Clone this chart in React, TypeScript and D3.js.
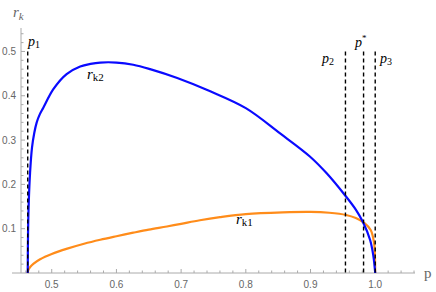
import * as d3 from 'd3';
import React from 'react';

// r_k2 (blue)
const blueP = [0.4629, 0.4634, 0.4645, 0.4665, 0.4695, 0.473, 0.4768, 0.4815, 0.487, 0.5025, 0.523, 0.544, 0.56, 0.575, 0.6, 0.626, 0.652, 0.694, 0.745, 0.8, 0.853, 0.899, 0.925, 0.953, 0.97, 0.981, 0.992, 0.997, 1.0];
const blueR = [0, 0.09, 0.16, 0.226, 0.283, 0.316, 0.34, 0.358, 0.373, 0.415, 0.449, 0.466, 0.472, 0.475, 0.475, 0.47, 0.46, 0.44, 0.41, 0.372, 0.315, 0.263, 0.225, 0.176, 0.143, 0.115, 0.075, 0.04, 0];

// r_k1 (orange)
const orangeP = [0.4629, 0.464, 0.467, 0.472, 0.482, 0.5, 0.524, 0.55, 0.575, 0.6, 0.626, 0.65, 0.678, 0.7, 0.729, 0.76, 0.8, 0.857, 0.9, 0.929, 0.955, 0.97, 0.983, 0.993, 0.998, 0.9995, 1.0];
const orangeR = [0, 0.0074, 0.014, 0.021, 0.031, 0.043, 0.055, 0.066, 0.075, 0.083, 0.091, 0.098, 0.105, 0.111, 0.119, 0.126, 0.133, 0.137, 0.138, 0.136, 0.131, 0.124, 0.113, 0.097, 0.07, 0.04, 0];

const markerNames = ['1', '2', '*', '3'];
const markerP = [0.4629, 0.954, 0.982, 1.0];
const markerTop = 0.5;

const xTicks = [0.5, 0.6, 0.7, 0.8, 0.9, 1.0];
const yTicks = [0.1, 0.2, 0.3, 0.4, 0.5];

const W = 436;
const H = 292;
const serif = '"Liberation Serif", "DejaVu Serif", serif';
const sans = '"Liberation Sans", Arial, sans-serif';

export default function App() {
  const x = d3.scaleLinear().domain([0.4525, 1.0615]).range([21, 415]);
  const y = d3.scaleLinear().domain([0, 0.55]).range([273, 29.3]);

  const line = d3.line<[number, number]>()
    .x(d => x(d[0]))
    .y(d => y(d[1]))
    .curve(d3.curveCatmullRom.alpha(0.5));

  const blue = blueP.map((p, i) => [p, blueR[i]] as [number, number]);
  const orange = orangeP.map((p, i) => [p, orangeR[i]] as [number, number]);

  const xMinor = d3.range(0.46, 1.0601, 0.02).filter(v => !xTicks.some(t => Math.abs(t - v) < 1e-6));
  const yMinor = d3.range(0.02, 0.5401, 0.02).filter(v => !yTicks.some(t => Math.abs(t - v) < 1e-6));

  const axisColor = '#aaaaaa';
  const labelColor = '#666666';

  return (
    <svg width={W} height={H} style={{ position: 'absolute', left: 0, top: 0, background: '#fff' }}>
      {/* axes */}
      <line x1={12} x2={415} y1={y(0)} y2={y(0)} stroke={axisColor} strokeWidth={1} />
      <line x1={x(0.4525)} x2={x(0.4525)} y1={28} y2={y(0)} stroke={axisColor} strokeWidth={1} />

      {xTicks.map(t => (
        <g key={'xt' + t}>
          <line x1={x(t)} x2={x(t)} y1={y(0)} y2={y(0) - 4} stroke={axisColor} />
          <text x={x(t)} y={y(0) + 15} textAnchor="middle" fontFamily={sans} fontSize={10} fill={labelColor}>
            {t.toFixed(1)}
          </text>
        </g>
      ))}
      {xMinor.map(t => (
        <line key={'xm' + t} x1={x(t)} x2={x(t)} y1={y(0)} y2={y(0) - 2.5} stroke={axisColor} />
      ))}
      {yTicks.map(t => (
        <g key={'yt' + t}>
          <line x1={21} x2={25} y1={y(t)} y2={y(t)} stroke={axisColor} />
          <text x={16} y={y(t) + 3.5} textAnchor="end" fontFamily={sans} fontSize={10} fill={labelColor}>
            {t.toFixed(1)}
          </text>
        </g>
      ))}
      {yMinor.map(t => (
        <line key={'ym' + t} x1={21} x2={23.5} y1={y(t)} y2={y(t)} stroke={axisColor} />
      ))}

      {/* axis labels */}
      <text x={13} y={17} fontFamily={serif} fontSize={15} fill={labelColor}>
        <tspan fontStyle="italic">r</tspan>
        <tspan fontStyle="italic" fontSize={11} dy={3}>k</tspan>
      </text>
      <text x={424} y={278} fontFamily={serif} fontSize={15} fill={labelColor}>p</text>

      {/* curves */}
      <path d={line(orange) ?? ''} fill="none" stroke="#ff8c1a" strokeWidth={2.2} />
      <path d={line(blue) ?? ''} fill="none" stroke="#0a0aff" strokeWidth={2.2} />

      {/* marker lines */}
      {markerP.map((p, i) => (
        <line key={'m' + i} x1={x(p)} x2={x(p)} y1={y(markerTop)} y2={y(0)}
          stroke="#000" strokeWidth={1.4} strokeDasharray="4,3" />
      ))}

      {/* marker labels */}
      <text x={28} y={46} fontFamily={serif} fontSize={14}>
        <tspan fontStyle="italic">p</tspan>
        <tspan fontSize={10} dy={2}>{markerNames[0]}</tspan>
      </text>
      <text x={322} y={63} fontFamily={serif} fontSize={14}>
        <tspan fontStyle="italic">p</tspan>
        <tspan fontSize={10} dy={2}>{markerNames[1]}</tspan>
      </text>
      <text x={355} y={47} fontFamily={serif} fontSize={14}>
        <tspan fontStyle="italic">p</tspan>
        <tspan fontSize={9} dy={-6}>{markerNames[2]}</tspan>
      </text>
      <text x={380} y={63} fontFamily={serif} fontSize={14}>
        <tspan fontStyle="italic">p</tspan>
        <tspan fontSize={10} dy={2}>{markerNames[3]}</tspan>
      </text>

      {/* curve labels */}
      <text x={87} y={79} fontFamily={serif} fontSize={15}>
        <tspan fontStyle="italic">r</tspan>
        <tspan fontSize={11} dy={2}>k2</tspan>
      </text>
      <text x={236} y={224} fontFamily={serif} fontSize={15}>
        <tspan fontStyle="italic">r</tspan>
        <tspan fontSize={11} dy={2}>k1</tspan>
      </text>
    </svg>
  );
}
